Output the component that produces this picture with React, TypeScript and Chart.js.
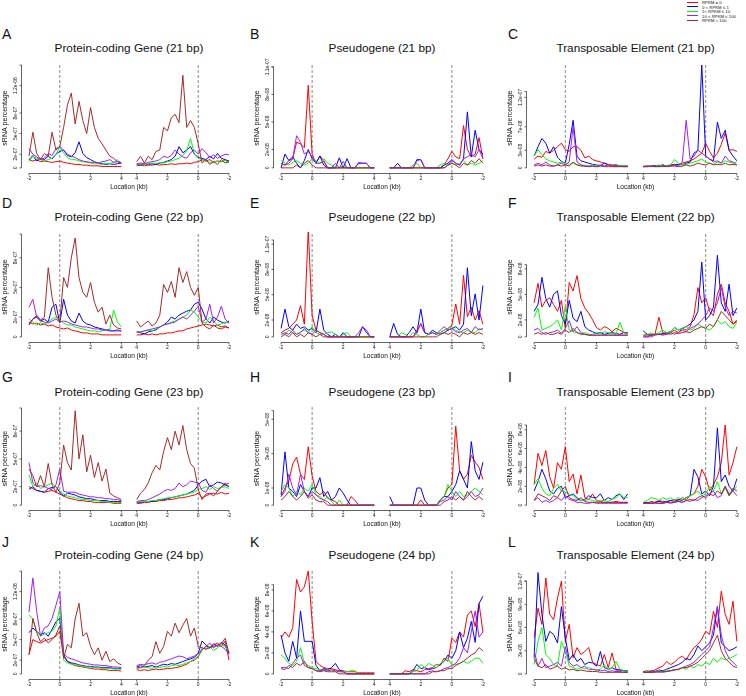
import React, { useEffect, useRef } from "react";
import { Chart, registerables } from "chart.js";

Chart.register(...registerables);

// ---------------- data ----------------
// Locations (kb) sampled along each half of the profile
const LEFT_KB = [-2, -1.75, -1.5, -1.25, -1, -0.75, -0.5, -0.25, 0, 0.25, 0.5, 0.75, 1, 1.25, 1.5, 1.75, 2, 2.25, 2.5, 2.75, 3, 3.25, 3.5, 3.75, 4];
const RIGHT_KB = [4, 3.75, 3.5, 3.25, 3, 2.75, 2.5, 2.25, 2, 1.75, 1.5, 1.25, 1, 0.75, 0.5, 0.25, 0, -0.25, -0.5, -0.75, -1, -1.25, -1.5, -1.75, -2];
const X_TICK_KB_LEFT = [-2, 0, 2, 4];
const X_TICK_KB_RIGHT = [4, 2, 0, -2];
const SERIES_LABELS = ["RPKM = 0", "0 < RPKM \u2264 1", "1< RPKM \u2264 10", "10 < RPKM \u2264 100", "RPKM > 100"];

// Each series: 25 values (left half, -2..4 kb) then 25 values (right half, 4..-2 kb)
// A: Protein-coding Gene (21 bp), values x1e-8
const A_RED = [12,10,12,9,10,9,8,9,10,8,7,6,5,5,4,4,3,3,3,2,2,2,2,2,2, 3,4,3,4,4,5,4,5,5,6,5,6,6,7,6,8,9,12,10,12,8,10,9,11,8];
const A_BLUE = [12,18,10,14,12,17,13,20,24,26,18,16,22,38,21,15,12,9,7,6,5,6,5,6,7, 5,4,6,5,6,5,7,8,10,12,17,31,22,26,31,20,15,14,12,17,13,21,14,12,10];
const A_GREEN = [9,17,14,12,10,12,14,20,30,22,15,12,12,10,9,8,7,6,6,5,7,6,8,12,6, 5,6,5,6,7,6,8,7,9,10,12,14,18,25,43,20,14,12,10,8,9,10,9,11,8];
const A_PURPLE = [28,20,16,12,14,21,18,28,31,26,20,17,15,12,10,9,8,8,7,9,10,12,8,9,8, 6,7,6,8,9,10,12,17,15,18,26,20,16,14,22,26,20,28,22,15,19,14,17,20,19];
const A_BROWN = [17,52,21,12,21,17,52,26,31,59,92,109,64,97,69,50,88,59,43,35,26,17,14,9,7, 9,17,7,17,12,24,26,59,54,73,78,66,135,59,69,59,35,7,12,5,9,5,12,7,9];

// B: Pseudogene (21 bp), x1e-9
const B_RED = [5,3,8,10,28,26,22,90,15,5,13,8,0,0,0,0,0,0,0,0,0,0,0,0,0, 0,0,0,0,0,0,0,0,0,0,0,0,0,0,3,10,18,12,10,46,20,12,15,33,10];
const B_BLUE = [0,15,8,12,5,0,8,20,10,5,13,3,0,0,0,11,0,10,0,0,5,5,5,0,0, 0,0,5,0,0,0,0,9,9,0,0,0,0,0,3,5,9,5,3,10,61,12,41,20,15];
const B_GREEN = [8,5,3,6,8,5,3,5,10,8,5,10,5,3,0,0,3,0,0,0,0,0,0,0,0, 0,0,0,0,0,0,3,5,0,0,0,0,0,3,5,3,5,3,5,8,3,5,3,5,8];
const B_PURPLE = [5,3,5,10,35,28,15,18,12,5,5,7,0,0,5,0,7,0,0,0,6,5,5,0,0, 0,0,0,0,0,0,0,8,9,0,0,0,0,0,0,3,8,5,3,10,12,15,12,20,10];
const B_BROWN = [0,0,0,0,3,0,5,8,3,0,0,0,0,0,0,0,0,0,0,0,0,0,0,0,0, 0,0,0,0,0,0,0,0,0,0,0,0,0,0,0,3,5,3,0,5,3,8,5,10,5];

// C: Transposable Element (21 bp), x1e-9
const C_RED = [15,20,18,28,25,30,36,42,31,28,36,36,30,17,20,14,12,10,8,6,5,5,3,3,3, 3,3,2,4,3,5,3,5,6,5,8,10,12,15,20,25,42,28,17,25,40,59,30,31,28];
const C_BLUE = [20,36,50,42,25,36,18,11,8,40,81,20,12,10,8,6,5,4,8,5,3,5,3,3,3, 2,3,3,4,3,5,3,4,5,6,5,8,10,25,30,175,20,15,12,78,50,64,30,20,12];
const C_GREEN = [20,31,22,15,12,10,8,10,8,6,8,5,5,4,3,5,3,4,3,5,3,3,4,3,3, 2,3,2,3,5,3,4,5,14,8,5,6,8,10,12,15,10,8,6,10,8,12,10,8,10];
const C_PURPLE = [5,8,5,10,5,3,5,8,5,10,70,10,5,3,3,3,2,5,3,5,3,2,3,2,2, 2,2,3,2,3,2,3,3,5,3,10,81,15,20,30,25,20,15,10,12,8,20,12,10,5];
const C_BROWN = [3,5,3,5,3,3,5,3,5,3,10,5,3,3,2,3,2,3,2,2,2,2,2,2,2, 2,2,3,2,2,3,2,3,3,2,3,5,3,5,8,6,5,8,5,6,5,8,5,6,5];

// D: Protein-coding Gene (22 bp), x1e-8
const D_RED = [15,13,14,12,13,11,12,10,9,8,9,7,6,5,4,4,3,3,3,2,2,2,2,2,2, 2,2,3,2,3,2,3,3,4,4,5,6,6,8,9,10,11,12,13,12,11,12,10,11,9];
const D_BLUE = [12,18,20,16,18,15,30,33,14,38,22,16,14,24,16,13,12,10,9,8,7,6,6,7,6, 5,4,3,5,6,7,10,12,15,20,18,22,24,26,27,33,35,28,18,14,20,17,15,14,16];
const D_GREEN = [18,15,12,14,13,15,18,20,17,14,12,12,10,9,8,7,6,6,5,6,7,8,27,15,10, 5,5,6,7,6,8,10,12,13,15,16,18,20,22,27,25,20,15,14,20,16,12,13,15,14];
const D_PURPLE = [30,38,20,16,15,14,16,18,15,16,15,13,12,11,10,10,9,8,8,7,7,7,6,6,6, 5,5,6,7,8,9,10,12,13,14,15,18,20,18,22,26,31,15,18,33,14,20,31,18,14];
const D_BROWN = [13,18,22,17,20,70,40,22,15,60,50,80,100,60,45,40,55,35,25,30,13,22,12,9,8, 16,10,13,16,11,14,22,53,45,56,40,70,55,66,50,42,50,14,10,8,12,9,8,10,9];

// E: Pseudogene (22 bp), x1e-9
const E_RED = [5,8,10,15,20,37,15,127,25,8,5,3,0,0,0,0,0,0,0,0,0,0,0,0,0, 0,0,0,0,0,0,0,5,16,5,3,5,3,5,8,10,14,39,15,73,24,35,20,31,15];
const E_BLUE = [10,33,12,8,15,10,12,8,10,5,33,8,3,0,3,0,5,0,0,0,0,12,5,0,0, 0,16,3,0,0,5,12,5,33,5,3,8,5,3,5,8,10,12,8,15,82,25,51,20,61];
const E_GREEN = [5,3,8,5,3,6,8,5,12,5,3,3,5,6,3,0,3,5,0,0,0,0,0,0,0, 0,0,0,5,3,0,5,3,0,0,3,5,3,5,8,10,12,8,6,5,8,6,5,10,8];
const E_PURPLE = [3,5,3,8,3,5,10,5,3,8,5,3,0,0,0,0,0,0,0,0,5,12,8,0,0, 0,0,0,0,0,0,0,8,15,5,3,5,3,8,12,8,10,6,5,8,10,5,12,8,10];
const E_BROWN = [0,3,0,5,0,3,0,5,3,0,3,0,0,0,0,0,0,0,0,0,0,0,0,0,0, 0,0,0,0,0,0,0,0,0,0,0,0,0,3,5,3,5,3,0,5,3,5,3,5,3];

// F: Transposable Element (22 bp), x1e-9
const F_RED = [40,63,35,43,46,38,30,43,10,64,54,72,45,34,28,20,11,8,12,10,6,10,8,5,5, 0,0,2,3,23,5,3,5,8,5,10,8,12,26,58,40,46,30,25,50,62,40,30,15,20];
const F_BLUE = [30,38,70,45,35,50,54,25,15,43,22,18,30,12,8,6,4,5,3,4,5,4,3,5,4, 7,3,2,3,3,4,5,6,11,8,10,12,15,20,30,88,20,25,35,96,40,30,62,25,34];
const F_GREEN = [23,34,8,10,12,15,20,8,36,8,6,5,4,5,3,3,5,4,6,5,4,3,17,5,3, 2,3,4,3,5,8,5,6,11,8,10,12,8,10,15,12,10,8,12,20,15,18,12,10,17];
const F_PURPLE = [8,10,5,3,5,6,8,4,10,19,6,12,5,3,2,2,2,2,2,2,2,2,2,2,2, 0,0,0,2,3,2,3,5,3,5,8,6,10,12,15,20,25,34,30,40,58,35,25,30,28];
const F_BROWN = [3,5,3,5,3,3,5,3,8,5,10,5,3,3,2,2,2,2,2,2,2,2,2,2,2, 2,2,2,3,3,3,4,3,5,4,5,6,5,8,10,12,10,15,12,20,30,25,20,15,18];

// G: Protein-coding Gene (23 bp), x1e-8
const G_RED = [20,18,16,15,14,15,16,14,12,10,8,7,6,5,5,4,4,3,3,3,3,3,2,2,2, 2,2,3,3,4,4,5,5,6,6,7,8,8,9,10,11,13,8,10,12,13,12,14,12,13];
const G_BLUE = [17,20,16,15,14,18,19,20,14,10,13,12,11,9,8,7,7,6,5,5,5,4,4,4,4, 3,3,4,4,4,5,6,6,7,8,9,10,11,12,14,16,22,26,28,20,22,25,24,22,20];
const G_GREEN = [33,20,24,18,20,22,24,20,16,12,10,9,8,7,6,6,5,5,5,4,4,3,3,3,3, 3,4,4,4,5,5,6,7,8,8,9,10,11,12,13,14,17,18,20,17,20,18,19,20,18];
const G_PURPLE = [46,24,20,21,20,18,17,22,39,15,14,14,14,12,11,10,9,9,8,8,7,7,6,6,5, 4,5,5,6,8,10,12,15,17,16,18,24,20,22,26,25,24,16,14,22,18,15,20,22,24];
const G_BROWN = [39,32,20,32,20,45,22,14,24,65,46,38,102,50,76,36,54,30,46,26,39,13,10,8,6, 6,13,17,24,35,43,38,58,73,60,80,65,86,60,45,40,17,6,12,13,10,15,20,24,20];

// H: Pseudogene (23 bp), x1e-9
const H_RED = [5,10,14,24,28,18,15,34,17,8,6,8,4,3,2,0,0,0,5,3,0,0,0,0,0, 0,0,0,0,0,0,0,0,3,0,0,0,0,3,5,10,12,46,20,15,18,29,25,22,15];
const H_BLUE = [6,31,10,8,5,12,8,5,10,10,16,5,8,3,5,10,7,3,0,0,0,0,0,0,0, 5,0,0,0,0,0,0,10,10,3,0,0,0,3,5,5,8,12,20,15,10,37,20,15,25];
const H_GREEN = [8,12,10,5,8,6,10,8,12,6,5,3,5,2,0,3,0,0,0,0,0,0,0,0,0, 0,0,0,0,0,0,0,0,0,0,0,0,0,3,5,12,8,5,8,5,6,8,10,8,6];
const H_PURPLE = [5,8,18,10,6,18,8,5,8,6,4,3,2,0,0,0,0,0,0,0,0,0,0,0,0, 0,0,0,0,0,0,0,0,0,0,0,0,0,2,3,5,3,8,5,3,5,8,5,6,10];
const H_BROWN = [3,5,8,5,3,5,8,4,6,3,2,2,0,0,0,0,0,0,0,0,0,0,0,0,0, 0,0,0,0,0,0,0,0,0,0,0,0,0,0,2,3,5,3,5,3,8,5,3,5,3];

// I: Transposable Element (23 bp), x1e-9
const I_RED = [22,55,42,58,30,18,45,38,62,25,33,12,32,8,6,12,5,4,3,3,3,4,3,3,3, 3,2,4,3,5,4,3,5,6,5,8,6,10,12,20,38,30,15,22,30,45,85,32,45,62];
const I_BLUE = [15,25,38,28,15,12,18,20,8,10,12,8,5,6,10,8,8,12,5,8,6,10,12,6,12, 2,3,2,3,4,3,4,5,4,6,5,8,10,38,30,12,15,10,20,82,25,32,20,15,28];
const I_GREEN = [22,28,18,12,10,18,22,15,14,12,10,6,5,5,6,5,4,5,5,4,6,8,12,8,8, 3,5,8,7,5,8,6,8,5,8,6,8,10,12,15,10,12,20,15,25,12,18,10,15,20];
const I_PURPLE = [5,8,3,5,3,5,8,5,10,6,5,3,3,2,2,3,2,2,2,2,2,2,2,2,2, 2,2,2,2,2,2,3,2,3,4,3,5,4,6,5,8,10,12,15,8,10,20,12,15,10];
const I_BROWN = [5,12,10,8,5,10,8,15,20,8,6,5,8,4,3,3,3,3,3,3,3,3,3,3,3, 2,2,2,3,2,2,3,3,3,4,3,5,6,5,8,10,8,12,10,15,12,20,10,18,15];

// J: Protein-coding Gene (24 bp), x1e-8
const J_RED = [28,50,47,45,48,50,52,55,62,25,18,15,12,11,10,9,8,7,7,6,6,5,5,5,4, 6,5,6,5,6,7,6,7,8,8,9,10,12,14,18,20,25,35,40,38,42,45,40,48,20];
const J_BLUE = [60,67,62,57,60,55,65,76,81,28,18,16,15,13,12,11,11,10,10,9,9,9,8,8,8, 10,12,10,11,12,10,12,14,13,15,14,16,18,20,22,24,30,48,42,38,44,40,46,42,30];
const J_GREEN = [86,80,62,55,58,60,62,70,96,20,16,14,14,12,11,10,10,9,9,8,8,8,7,7,7, 8,9,10,9,8,10,9,11,10,12,13,12,14,16,18,22,26,38,36,40,34,38,42,40,32];
const J_PURPLE = [90,140,91,55,67,70,81,100,120,30,24,22,20,18,16,15,14,13,13,12,12,11,10,10,9, 12,14,13,15,16,14,17,18,20,22,24,26,25,22,24,26,30,35,40,45,38,42,40,36,28];
const J_BROWN = [28,81,60,47,52,45,50,57,70,23,43,38,80,103,55,60,40,28,38,20,33,18,22,16,13, 9,9,12,20,25,47,30,40,62,55,74,60,71,81,55,67,40,38,36,38,40,42,44,52,30];

// K: Pseudogene (24 bp), x1e-9
const K_RED = [34,40,35,44,90,78,83,98,50,12,8,6,5,5,4,3,3,2,2,2,1,1,1,1,1, 0,0,0,0,3,2,4,3,2,4,5,6,9,8,15,12,34,30,40,35,56,60,45,67,40];
const K_BLUE = [37,20,12,31,15,60,31,31,31,8,3,5,4,6,10,4,2,0,0,0,0,0,0,0,0, 0,0,0,0,0,0,3,9,5,6,4,5,6,9,12,18,15,22,40,25,34,50,30,67,74];
const K_GREEN = [18,15,10,8,12,25,10,8,6,5,4,3,4,3,3,2,2,2,3,3,0,0,0,0,0, 0,0,0,0,0,0,2,3,9,6,10,8,6,10,12,15,8,9,10,12,10,12,15,15,10];
const K_PURPLE = [6,6,5,10,15,18,8,6,5,3,3,4,3,4,3,2,2,0,0,0,0,0,0,0,0, 0,0,0,0,0,0,0,0,0,0,2,3,2,3,5,6,8,10,15,25,20,40,60,35,40];
const K_BROWN = [5,4,8,6,10,8,12,6,5,3,2,3,2,2,2,0,0,0,0,0,0,0,0,0,0, 0,0,0,0,0,0,0,0,0,0,0,2,2,3,3,5,5,8,10,12,15,18,20,25,22];

// L: Transposable Element (24 bp), x1e-9
const L_RED = [47,85,64,124,77,70,98,120,42,64,21,34,25,29,34,15,12,10,25,8,27,6,5,4,3, 3,4,3,5,8,10,16,12,15,20,23,18,27,34,38,45,55,51,81,60,107,77,64,94,42];
const L_BLUE = [21,131,77,42,55,51,40,87,47,18,25,16,20,12,15,14,10,29,8,6,8,5,5,4,4, 3,2,4,3,5,4,6,8,10,12,15,20,18,25,36,30,35,40,50,87,40,35,30,32,35];
const L_GREEN = [12,42,60,25,20,12,10,42,29,10,8,6,8,7,8,6,5,6,12,5,8,16,6,4,3, 2,3,2,3,4,3,5,4,6,5,8,6,10,8,12,10,15,12,20,15,21,18,20,22,25];
const L_PURPLE = [30,10,20,8,10,12,15,10,35,15,10,12,8,10,5,6,5,4,5,3,4,3,3,2,2, 2,2,2,3,2,3,3,4,5,6,8,10,12,15,20,25,30,35,60,87,50,30,20,15,10];
const L_BROWN = [20,10,8,12,6,8,10,6,8,5,6,4,5,4,3,3,3,2,2,2,2,2,2,2,2, 2,2,2,2,3,2,3,4,5,6,8,8,10,12,15,20,25,30,40,50,30,20,15,10,8];

// y-axis ticks (true values) and their printed labels
const TICKS_PC = [0, 2e-7, 5e-7, 8e-7, 1.2e-6];
const TICKS_PC_LABELS = ["0", "2e-07", "5e-07", "8e-07", "1.2e-06"];
const TICKS_PC_SHORT = [0, 2e-7, 5e-7, 8e-7];
const TICKS_PC_SHORT_LABELS = ["0", "2e-07", "5e-07", "8e-07"];
const TICKS_B = [0, 2e-8, 5e-8, 8e-8, 1.1e-7];
const TICKS_B_LABELS = ["0", "2e-08", "5e-08", "8e-08", "1.1e-07"];
const TICKS_C = [0, 3e-8, 7e-8, 1.2e-7];
const TICKS_C_LABELS = ["0", "3e-08", "7e-08", "1.2e-07"];
const TICKS_F = [0, 2e-8, 5e-8, 8e-8];
const TICKS_F_LABELS = ["0", "2e-08", "5e-08", "8e-08"];
const TICKS_H = [0, 1e-8, 3e-8, 5e-8];
const TICKS_H_LABELS = ["0", "1e-08", "3e-08", "5e-08"];
const TICKS_IK = [0, 2e-8, 4e-8, 6e-8, 8e-8];
const TICKS_IK_LABELS = ["0", "2e-08", "4e-08", "6e-08", "8e-08"];
const TICKS_L = [0, 3e-8, 6e-8, 9e-8, 1.2e-7];
const TICKS_L_LABELS = ["0", "3e-08", "6e-08", "9e-08", "1.2e-07"];

const PANELS = [
  { letter: "A", title: "Protein-coding Gene (21 bp)", row: 0, col: 0, unit: 1e-8, yMax: 1.5e-6, axisTop: 1.5e-6, ticks: TICKS_PC, tickLabels: TICKS_PC_LABELS, series: [A_RED, A_BLUE, A_GREEN, A_PURPLE, A_BROWN] },
  { letter: "B", title: "Pseudogene (21 bp)", row: 0, col: 1, unit: 1e-9, yMax: 1.12e-7, axisTop: 1.1e-7, ticks: TICKS_B, tickLabels: TICKS_B_LABELS, series: [B_RED, B_BLUE, B_GREEN, B_PURPLE, B_BROWN] },
  { letter: "C", title: "Transposable Element (21 bp)", row: 0, col: 2, unit: 1e-9, yMax: 1.75e-7, axisTop: 1.3e-7, ticks: TICKS_C, tickLabels: TICKS_C_LABELS, series: [C_RED, C_BLUE, C_GREEN, C_PURPLE, C_BROWN] },
  { letter: "D", title: "Protein-coding Gene (22 bp)", row: 1, col: 0, unit: 1e-8, yMax: 1.04e-6, axisTop: 1.04e-6, ticks: TICKS_PC_SHORT, tickLabels: TICKS_PC_SHORT_LABELS, series: [D_RED, D_BLUE, D_GREEN, D_PURPLE, D_BROWN] },
  { letter: "E", title: "Pseudogene (22 bp)", row: 1, col: 1, unit: 1e-9, yMax: 1.22e-7, axisTop: 1.15e-7, ticks: TICKS_B, tickLabels: TICKS_B_LABELS, series: [E_RED, E_BLUE, E_GREEN, E_PURPLE, E_BROWN] },
  { letter: "F", title: "Transposable Element (22 bp)", row: 1, col: 2, unit: 1e-9, yMax: 1.21e-7, axisTop: 8.5e-8, ticks: TICKS_F, tickLabels: TICKS_F_LABELS, series: [F_RED, F_BLUE, F_GREEN, F_PURPLE, F_BROWN] },
  { letter: "G", title: "Protein-coding Gene (23 bp)", row: 2, col: 0, unit: 1e-8, yMax: 1.04e-6, axisTop: 1.05e-6, ticks: TICKS_PC_SHORT, tickLabels: TICKS_PC_SHORT_LABELS, series: [G_RED, G_BLUE, G_GREEN, G_PURPLE, G_BROWN] },
  { letter: "H", title: "Pseudogene (23 bp)", row: 2, col: 1, unit: 1e-9, yMax: 5.6e-8, axisTop: 5.5e-8, ticks: TICKS_H, tickLabels: TICKS_H_LABELS, series: [H_RED, H_BLUE, H_GREEN, H_PURPLE, H_BROWN] },
  { letter: "I", title: "Transposable Element (23 bp)", row: 2, col: 2, unit: 1e-9, yMax: 1.02e-7, axisTop: 8.5e-8, ticks: TICKS_IK, tickLabels: TICKS_IK_LABELS, series: [I_RED, I_BLUE, I_GREEN, I_PURPLE, I_BROWN] },
  { letter: "J", title: "Protein-coding Gene (24 bp)", row: 3, col: 0, unit: 1e-8, yMax: 1.5e-6, axisTop: 1.5e-6, ticks: TICKS_PC, tickLabels: TICKS_PC_LABELS, series: [J_RED, J_BLUE, J_GREEN, J_PURPLE, J_BROWN] },
  { letter: "K", title: "Pseudogene (24 bp)", row: 3, col: 1, unit: 1e-9, yMax: 9.8e-8, axisTop: 8.5e-8, ticks: TICKS_IK, tickLabels: TICKS_IK_LABELS, series: [K_RED, K_BLUE, K_GREEN, K_PURPLE, K_BROWN] },
  { letter: "L", title: "Transposable Element (24 bp)", row: 3, col: 2, unit: 1e-9, yMax: 1.33e-7, axisTop: 1.2e-7, ticks: TICKS_L, tickLabels: TICKS_L_LABELS, series: [L_RED, L_BLUE, L_GREEN, L_PURPLE, L_BROWN] },
];

// ---------------- styles / layout ----------------
const COLORS = ["#FF0000", "#0000FF", "#00FF00", "#A020F0", "#A52A2A"];
const FONT = '"Liberation Sans", Arial, Helvetica, sans-serif';
const COL_LEFT = [21, 273, 526];
const COL_WIDTH = [216, 218, 219];
const ROW_AXIS = [173, 342, 510, 679];
const ROW_HEIGHT = [110, 110, 103, 110];
const TITLE_Y = [48, 217, 392, 555];
const LETTER_Y = [34, 203, 377, 542];
const LETTER_X = [2, 250, 508];
const PAD = { left: 24, top: 5, right: 6, bottom: 20 };
const X_MIN = -0.52;
const X_MAX = 13.52;

const leftPos = (kb: number) => kb + 2;
const rightPos = (kb: number) => 11 - kb;
const X_TICK_POS = [...X_TICK_KB_LEFT.map(leftPos), ...X_TICK_KB_RIGHT.map(rightPos)];
const X_TICK_LABELS = [...X_TICK_KB_LEFT, ...X_TICK_KB_RIGHT].map((v) => String(v));
const TSS_POS = [leftPos(0), rightPos(0)];

function makeAxesPlugin(spec: any) {
  return {
    id: "rAxes",
    afterDatasetsDraw(chart: any) {
      const { ctx, chartArea } = chart;
      const xs = chart.scales.x;
      const ys = chart.scales.y;
      ctx.save();
      ctx.strokeStyle = "#222";
      ctx.fillStyle = "#111";
      ctx.lineWidth = 0.7;
      const yb = chartArea.bottom + 0.5;
      const xFirst = xs.getPixelForValue(X_TICK_POS[0]);
      const xLast = xs.getPixelForValue(X_TICK_POS[X_TICK_POS.length - 1]);
      const xl = chartArea.left + 0.5;
      ctx.beginPath();
      ctx.moveTo(xFirst, yb);
      ctx.lineTo(xLast, yb);
      X_TICK_POS.forEach((p) => {
        const px = xs.getPixelForValue(p);
        ctx.moveTo(px, yb);
        ctx.lineTo(px, yb + 2);
      });
      const y0 = ys.getPixelForValue(0);
      const yt = ys.getPixelForValue(spec.axisTop);
      ctx.moveTo(xl, y0);
      ctx.lineTo(xl, yt);
      [...spec.ticks, spec.axisTop].forEach((v: number) => {
        const py = ys.getPixelForValue(v);
        ctx.moveTo(xl, py);
        ctx.lineTo(xl - 2, py);
      });
      ctx.stroke();

      ctx.textAlign = "center";
      ctx.textBaseline = "middle";
      ctx.font = `5px ${FONT}`;
      X_TICK_POS.forEach((p, i) => ctx.fillText(X_TICK_LABELS[i], xs.getPixelForValue(p), yb + 5));
      ctx.font = `6.5px ${FONT}`;
      ctx.fillText("Location (kb)", (xFirst + xLast) / 2, yb + 14);

      ctx.font = `5px ${FONT}`;
      spec.ticks.forEach((v: number, i: number) => {
        const py = ys.getPixelForValue(v);
        ctx.save();
        ctx.translate(xl - 6, py);
        ctx.rotate(-Math.PI / 2);
        ctx.fillText(spec.tickLabels[i], 0, 0);
        ctx.restore();
      });
      ctx.save();
      ctx.translate(xl - 16, (chartArea.top + chartArea.bottom) / 2);
      ctx.rotate(-Math.PI / 2);
      ctx.font = `7px ${FONT}`;
      ctx.fillText("sRNA percentage", 0, 0);
      ctx.restore();
      ctx.restore();
    },
  };
}

function Panel({ spec }: { spec: any }) {
  const ref = useRef<HTMLCanvasElement>(null);
  const w = COL_WIDTH[spec.col];
  const h = ROW_HEIGHT[spec.row];
  const axisY = ROW_AXIS[spec.row];
  const canvasLeft = COL_LEFT[spec.col] - PAD.left;
  const canvasTop = axisY - h - PAD.top;
  const cw = PAD.left + w + PAD.right;
  const chh = PAD.top + h + PAD.bottom;
  const cx = COL_LEFT[spec.col] + ((6.5 - X_MIN) / (X_MAX - X_MIN)) * w;

  useEffect(() => {
    if (!ref.current) return;
    const yMin = -0.05 * spec.yMax;
    const yTop = 1.02 * spec.yMax;
    const datasets: any[] = spec.series.map((vals: number[], s: number) => ({
      label: SERIES_LABELS[s],
      data: [
        ...LEFT_KB.map((kb, i) => ({ x: leftPos(kb), y: vals[i] * spec.unit })),
        { x: 6.5, y: null },
        ...RIGHT_KB.map((kb, i) => ({ x: rightPos(kb), y: vals[LEFT_KB.length + i] * spec.unit })),
      ],
      borderColor: COLORS[s],
      borderWidth: 1,
      pointRadius: 0,
      tension: 0,
      fill: false,
      spanGaps: false,
      order: 4 - s,
    }));
    TSS_POS.forEach((u) => {
      datasets.push({
        label: "TSS",
        data: [{ x: u, y: yMin }, { x: u, y: yTop }],
        borderColor: "#8a8a8a",
        borderWidth: 1,
        borderDash: [3, 2],
        pointRadius: 0,
        fill: false,
        order: 10,
      });
    });
    const chart = new Chart(ref.current, {
      type: "line",
      data: { datasets },
      options: {
        animation: false,
        responsive: false,
        events: [],
        layout: { padding: PAD },
        plugins: { legend: { display: false }, tooltip: { enabled: false }, title: { display: false } },
        scales: {
          x: { type: "linear", display: false, min: X_MIN, max: X_MAX },
          y: { type: "linear", display: false, min: yMin, max: yTop },
        },
      },
      plugins: [makeAxesPlugin(spec)],
    } as any);
    return () => chart.destroy();
  }, [spec]);

  return (
    <>
      <div
        style={{
          position: "absolute",
          left: LETTER_X[spec.col],
          top: LETTER_Y[spec.row] - 8,
          fontSize: 14,
          lineHeight: "16px",
          color: "#111",
        }}
      >
        {spec.letter}
      </div>
      <div
        style={{
          position: "absolute",
          left: cx - 130,
          width: 260,
          top: TITLE_Y[spec.row] - 7,
          fontSize: 11.8,
          lineHeight: "14px",
          textAlign: "center",
          color: "#111",
          whiteSpace: "nowrap",
        }}
      >
        {spec.title}
      </div>
      <canvas
        ref={ref}
        width={cw}
        height={chh}
        style={{ position: "absolute", left: canvasLeft, top: canvasTop, width: cw, height: chh }}
      />
    </>
  );
}

function Legend() {
  return (
    <div style={{ position: "absolute", left: 687, top: 0, width: 59, height: 24 }}>
      {SERIES_LABELS.map((lab, i) => {
        const cy = 2 + i * 4.6;
        return (
          <React.Fragment key={lab}>
            <div style={{ position: "absolute", left: 0, top: cy - 0.5, width: 11, height: 1, background: COLORS[i] }} />
            <div
              style={{
                position: "absolute",
                left: 15,
                top: cy - 5,
                fontSize: 8.6,
                lineHeight: "10px",
                whiteSpace: "nowrap",
                transform: "scale(0.5)",
                transformOrigin: "0 50%",
                color: "#111",
              }}
            >
              {lab}
            </div>
          </React.Fragment>
        );
      })}
    </div>
  );
}

export default function App() {
  return (
    <div
      style={{
        position: "absolute",
        left: 0,
        top: 0,
        width: 746,
        height: 696,
        overflow: "hidden",
        background: "#fff",
        fontFamily: FONT,
      }}
    >
      {PANELS.map((p) => (
        <Panel key={p.letter} spec={p} />
      ))}
      <Legend />
    </div>
  );
}
